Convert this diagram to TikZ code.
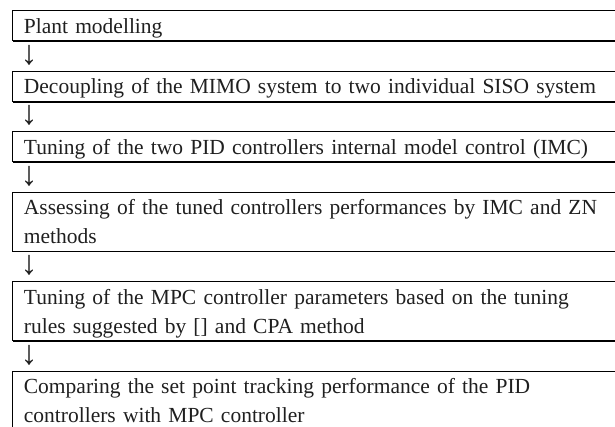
\documentclass[tikz,border=0pt]{standalone}
\usepackage{fontspec}
\setmainfont{Liberation Serif}
\usepackage{tikz}

% fixed height for every text line of a stage
\newcommand\rowstrut{\rule[-3.5pt]{0pt}{14.2pt}}

\begin{document}
\begin{tikzpicture}[x=0.5pt,y=-0.5pt]
\tikzstyle{stagebox}=[anchor=north west, text width=330pt, align=left, inner xsep=5.5pt, inner ysep=0.25pt, font=\fontsize{10.75}{14.45}\selectfont, text=black!88]
\tikzstyle{downmark}=[anchor=north, inner sep=0pt, minimum height=14.75pt, text height=9pt, text depth=1pt, font=\fontsize{17}{14.2}\selectfont, text=black!88]

\useasboundingbox (0,0) rectangle (615,427);
\clip (0,0) rectangle (615,427);

\node (s1) at (12.5,11) [stagebox] {\rowstrut Plant modelling};
\node (d1) at ([xshift=8.25pt]s1.south west) [downmark] {↓};
\node (s2) at (s1.west |- d1.south) [stagebox] {\rowstrut Decoupling of the MIMO system to two individual SISO system};
\node (d2) at ([xshift=8.25pt]s2.south west) [downmark] {↓};
\node (s3) at (s1.west |- d2.south) [stagebox] {\rowstrut Tuning of the two PID controllers internal model control (IMC)};
\node (d3) at ([xshift=8.25pt]s3.south west) [downmark] {↓};
\node (s4) at (s1.west |- d3.south) [stagebox] {\rowstrut Assessing of the tuned controllers performances by IMC and ZN\\\rowstrut methods};
\node (d4) at ([xshift=8.25pt]s4.south west) [downmark] {↓};
\node (s5) at (s1.west |- d4.south) [stagebox] {\rowstrut Tuning of the MPC controller parameters based on the tuning\\\rowstrut rules suggested by [] and CPA method};
\node (d5) at ([xshift=8.25pt]s5.south west) [downmark] {↓};
\node (s6) at (s1.west |- d5.south) [stagebox] {\rowstrut Comparing the set point tracking performance of the PID\\\rowstrut controllers with MPC controller};

% frames open to the right, heavier rule underneath
\foreach \s in {s1,s2,s3,s4,s5,s6} {
  \draw[line width=0.5pt] (\s.north east) -- (\s.north west) -- (\s.south west);
  \draw[line width=0.85pt] (\s.south west) -- (\s.south east);
}
\end{tikzpicture}
\end{document}
